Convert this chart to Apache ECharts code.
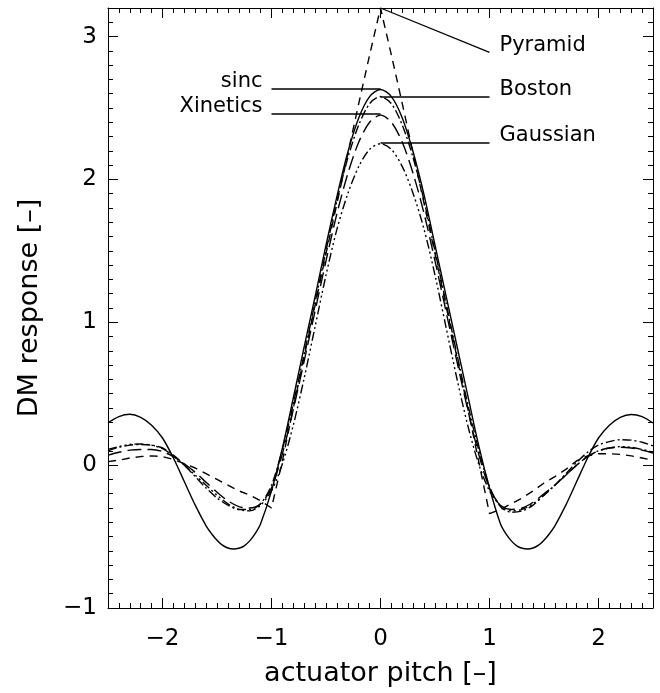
<!DOCTYPE html>
<html><head><meta charset="utf-8">
<script src="https://cdn.jsdelivr.net/npm/echarts@6/dist/echarts.min.js"></script>
<style>html,body{margin:0;padding:0;background:#fff}#c{width:660px;height:693px}</style>
</head><body><div id="c"></div>
<script>
// ---- data ----
const xs = [-2.5,-2.4,-2.3,-2.2,-2.1,-2.0,-1.9,-1.8,-1.7,-1.6,-1.5,-1.4,-1.3,-1.2,-1.1,-1.0,-0.9,-0.8,-0.7,-0.6,-0.5,-0.4,-0.3,-0.2,-0.1,
  0.0,0.1,0.2,0.3,0.4,0.5,0.6,0.7,0.8,0.9,1.0,1.1,1.2,1.3,1.4,1.5,1.6,1.7,1.8,1.9,2.0,2.1,2.2,2.3,2.4,2.5];
// sinc is sampled a bit more densely through its deep troughs
const sincX = [-2.5,-2.4,-2.3,-2.2,-2.1,-2.0,-1.9,-1.8,-1.7,-1.6,-1.55,-1.5,-1.45,-1.4,-1.35,-1.3,-1.25,-1.2,-1.15,-1.1,-1.0,-0.9,-0.8,-0.7,-0.6,-0.5,-0.4,-0.3,-0.2,-0.1,
  0.0,0.1,0.2,0.3,0.4,0.5,0.6,0.7,0.8,0.9,1.0,1.1,1.15,1.2,1.25,1.3,1.35,1.4,1.45,1.5,1.55,1.6,1.7,1.8,1.9,2.0,2.1,2.2,2.3,2.4,2.5];
const sincY = [0.297,0.34,0.356,0.335,0.28,0.19,0.05,-0.115,-0.28,-0.425,-0.48,-0.525,-0.56,-0.58,-0.587,-0.582,-0.565,-0.53,-0.48,-0.41,-0.18,0.12,0.47,0.83,1.18,1.54,1.88,2.19,2.43,2.58,
  2.63,2.58,2.43,2.19,1.89,1.54,1.19,0.84,0.49,0.14,-0.16,-0.41,-0.48,-0.53,-0.565,-0.582,-0.587,-0.58,-0.56,-0.525,-0.48,-0.425,-0.28,-0.115,0.05,0.19,0.28,0.335,0.355,0.34,0.295];
const xineticsY = [0.07,0.09,0.105,0.11,0.11,0.095,0.06,0.01,-0.05,-0.12,-0.19,-0.25,-0.29,-0.30,-0.27,-0.16,0.08,0.39,0.73,1.08,1.43,1.76,2.04,2.26,2.40,
  2.45,2.40,2.26,2.04,1.76,1.43,1.08,0.73,0.39,0.08,-0.16,-0.28,-0.31,-0.30,-0.26,-0.20,-0.14,-0.07,0.00,0.06,0.10,0.12,0.125,0.12,0.105,0.085];
const bostonY = [0.10,0.125,0.14,0.145,0.14,0.12,0.07,0.0,-0.08,-0.16,-0.23,-0.28,-0.31,-0.31,-0.27,-0.14,0.11,0.43,0.78,1.14,1.50,1.85,2.15,2.38,2.53,
  2.58,2.53,2.38,2.15,1.85,1.50,1.14,0.78,0.43,0.11,-0.15,-0.29,-0.33,-0.32,-0.28,-0.21,-0.14,-0.06,0.02,0.09,0.14,0.165,0.178,0.175,0.16,0.135];
const gaussianY = [0.11,0.13,0.145,0.148,0.14,0.115,0.065,0.0,-0.07,-0.14,-0.21,-0.27,-0.31,-0.32,-0.28,-0.18,0.01,0.28,0.61,0.97,1.33,1.65,1.90,2.09,2.21,
  2.25,2.21,2.09,1.90,1.65,1.33,0.97,0.61,0.28,0.01,-0.18,-0.28,-0.32,-0.31,-0.27,-0.21,-0.14,-0.07,0.0,0.06,0.10,0.12,0.13,0.125,0.11,0.09];
const pyramidY = [0.025,0.035,0.05,0.06,0.065,0.06,0.04,0.01,-0.02,-0.06,-0.10,-0.14,-0.18,-0.21,-0.25,-0.30,0.03,0.40,0.76,1.12,1.48,1.83,2.18,2.53,2.87,
  3.2,2.87,2.53,2.18,1.83,1.48,1.12,0.76,0.40,0.03,-0.34,-0.31,-0.27,-0.23,-0.18,-0.125,-0.08,-0.03,0.03,0.065,0.08,0.08,0.075,0.065,0.05,0.035];

const xTickLabels = [-2,-1,0,1,2];
const yTickLabels = [-1,0,1,2,3];

// annotation pointers (data coords) and their names
const leftNames = ['sinc','Xinetics'];
const leftLevels = [2.633,2.458];
const rightNames = ['Boston','Gaussian'];
const rightLevels = [2.577,2.255];
const pyramidPointer = [[0,3.2],[1,2.89]];

// ---- chart ----
const FONT = 'DejaVu Sans';
const zip = (a,b) => a.map((v,i)=>[v,b[i]]);
const chart = echarts.init(document.getElementById('c'), null, {renderer:'canvas'});

function xAxisDef(pos, major){
  return {
    type:'value', position:pos, min:-2.5, max:2.5,
    interval: major ? undefined : 0.1,
    axisLine:{show:major, onZero:false, lineStyle:{color:'#000', width:1}},
    axisTick: major ? {show:true, inside:true, length:10, customValues:xTickLabels, lineStyle:{color:'#000'}}
                    : {show:true, inside:true, length:5, lineStyle:{color:'#000'}},
    axisLabel: (major && pos==='bottom') ? {show:true, customValues:xTickLabels, margin:20, color:'#000', fontFamily:FONT, fontSize:23,
                 formatter: v => String(v).replace('-','\u2212')} : {show:false},
    splitLine:{show:false},
    name: (major && pos==='bottom') ? 'actuator pitch [\u2013]' : '',
    nameLocation:'middle', nameGap:52,
    nameTextStyle:{color:'#000', fontFamily:FONT, fontSize:27}
  };
}
function yAxisDef(pos, major){
  return {
    type:'value', position:pos, min:-1, max:3.2,
    interval: major ? undefined : 0.1,
    axisLine:{show:major, onZero:false, lineStyle:{color:'#000', width:1}},
    axisTick: major ? {show:true, inside:true, length:10, customValues:yTickLabels, lineStyle:{color:'#000'}}
                    : {show:true, inside:true, length:5, lineStyle:{color:'#000'}},
    axisLabel: (major && pos==='left') ? {show:true, customValues:yTickLabels, margin:11, color:'#000', fontFamily:FONT, fontSize:23,
                 formatter: v => String(v).replace('-','\u2212')} : {show:false},
    splitLine:{show:false},
    name: (major && pos==='left') ? 'DM response [\u2013]' : '',
    nameLocation:'middle', nameGap:65,
    nameTextStyle:{color:'#000', fontFamily:FONT, fontSize:27}
  };
}

function curve(name, xv, ys, dash, smooth){
  return {name, type:'line', xAxisIndex:0, yAxisIndex:0, data:zip(xv,ys), showSymbol:false, symbol:'none',
    smooth: smooth, silent:true, animation:false,
    lineStyle:{color:'#000', width:1.4, type:dash}};
}
function pointer(pts){
  return {type:'line', xAxisIndex:0, yAxisIndex:0, data:pts, showSymbol:false, symbol:'none', silent:true, animation:false,
    lineStyle:{color:'#000', width:1.3}};
}
const labelStyle = {color:'#000', opacity:1, fontFamily:FONT, fontSize:21};

const series = [
  curve('sinc', sincX, sincY, 'solid', 0.3),
  curve('Xinetics', xs, xineticsY, [14,6], 0.3),
  curve('Boston', xs, bostonY, [9,3,2,3], 0.3),
  curve('Gaussian', xs, gaussianY, [9,3,2,3,2,3,2,3], 0.3),
  curve('Pyramid', xs, pyramidY, [8,6], false),
];
leftLevels.forEach(l => series.push(pointer([[-1,l],[0,l]])));
rightLevels.forEach(l => series.push(pointer([[0,l],[1,l]])));
series.push(pointer(pyramidPointer));
series.push({type:'scatter', xAxisIndex:0, yAxisIndex:0, symbolSize:0, silent:true, animation:false,
  itemStyle:{opacity:1, color:'#000'},
  data: leftNames.map((n,i)=>({value:[-1,leftLevels[i]], name:n})),
  label:{show:true, position:'left', distance:9, offset:[0,-7], formatter:p=>p.name, ...labelStyle}});
series.push({type:'scatter', xAxisIndex:0, yAxisIndex:0, symbolSize:0, silent:true, animation:false,
  itemStyle:{opacity:1, color:'#000'},
  data: rightNames.map((n,i)=>({value:[1,rightLevels[i]], name:n})).concat([{value:pyramidPointer[1], name:'Pyramid'}]),
  label:{show:true, position:'right', distance:10, offset:[0,-7], formatter:p=>p.name, ...labelStyle}});

chart.setOption({
  backgroundColor:'#fff',
  animation:false,
  grid:{left:108, top:8, right:7, bottom:85, containLabel:false},
  xAxis:[xAxisDef('bottom',true), xAxisDef('bottom',false), xAxisDef('top',true), xAxisDef('top',false)],
  yAxis:[yAxisDef('left',true), yAxisDef('left',false), yAxisDef('right',true), yAxisDef('right',false)],
  series
});
</script></body></html>
